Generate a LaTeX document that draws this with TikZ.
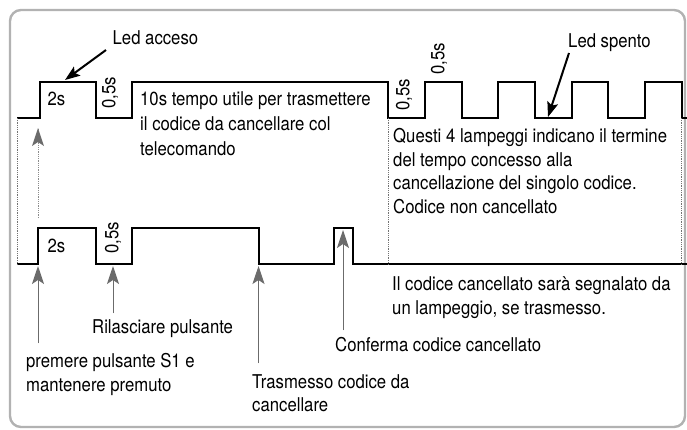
\documentclass[tikz,border=0pt]{standalone}
\usepackage{fontspec}
\setmainfont[FakeStretch=0.88]{TeX Gyre Heros}
\usetikzlibrary{arrows.meta}
\begin{document}
\begin{tikzpicture}[x=1pt,y=-1pt,
  wave/.style={line width=2.4pt, line join=miter, black},
  lbl/.style={anchor=base west, inner sep=0pt, font=\fontsize{19}{24}\selectfont},
  rot/.style={rotate=90, inner sep=0pt, font=\fontsize{19}{24}\selectfont},
  dots/.style={densely dotted, line width=0.8pt, black!55},
  garrow/.style={-{Stealth[length=18pt,width=12pt,inset=4pt]}, line width=1pt, draw=black!58, fill=black!58},
  barrow/.style={-{Stealth[length=15pt,width=11pt,inset=3pt]}, line width=2pt, black},
  frame/.style={draw=black!30, line width=2.4pt, rounded corners=11pt}]

\useasboundingbox (0,0) rectangle (687,429);
\draw[frame] (10,10) rectangle (685,427);

% upper waveform
\draw[wave] (17,118) -- (40,118) -- (40,82) -- (96,82) -- (96,118) -- (132,118) -- (132,82)
  -- (388,82) -- (388,118) -- (425,118) -- (425,82) -- (462,82) -- (462,118)
  -- (498,118) -- (498,82) -- (535,82) -- (535,118) -- (572,118) -- (572,82)
  -- (608,82) -- (608,118) -- (645,118) -- (645,82) -- (682,82) -- (682,118) -- (687,118);

% lower waveform
\draw[wave] (17,264) -- (38,264) -- (38,228) -- (96,228) -- (96,264) -- (132,264) -- (132,228)
  -- (259,228) -- (259,264) -- (334,264) -- (334,228) -- (353,228) -- (353,264) -- (687,264);

% named points
\coordinate (u0) at (17,118);  \coordinate (l0) at (17,264);
\coordinate (u1) at (388,118); \coordinate (l1) at (388,264);
\coordinate (u2) at (681,118); \coordinate (l2) at (681,264);
\coordinate (pdot) at (38,218); \coordinate (ptip) at (38,128);
\coordinate (accT) at (106,50); \coordinate (accH) at (65,80);
\coordinate (spT) at (569,53);  \coordinate (spH) at (548,117);
\coordinate (t1) at (38,343);  \coordinate (h1) at (38,266);
\coordinate (t2) at (113,313); \coordinate (h2) at (113,266);
\coordinate (t3) at (258.5,363); \coordinate (h3) at (258.5,266);
\coordinate (t4) at (343,330); \coordinate (h4) at (343,230);

% dotted guides
\draw[dots] (u0) -- (l0);
\draw[dots] (u1) -- (l1);
\draw[dots] (u2) -- (l2);
\draw[dots, draw=black!45] (pdot) -- (ptip);
\fill[black!58] (38,128) -- (32,146) -- (38,142) -- (44,146) -- cycle;

% gray arrows
\draw[garrow] (t1) -- (h1);
\draw[garrow] (t2) -- (h2);
\draw[garrow] (t3) -- (h3);
\draw[garrow] (t4) -- (h4);

% black arrows
\draw[barrow] (accT) -- (accH);
\draw[barrow] (spT) -- (spH);

% texts
\node[lbl] (ledacc) at (112.5,44.5) {Led acceso};
\node[lbl] (ledsp) at (568,47) {Led spento};
\node[lbl] (u2s) at (47.5,105.5) {2s};
\node[lbl] (ta) at (140,105.5) {10s tempo utile per trasmettere};
\node[lbl] (tb) at (140,130.5) {il codice da cancellare col};
\node[lbl] (tc) at (140,155) {telecomando};
\node[lbl] (qa) at (393,142.5) {Questi 4 lampeggi indicano il termine};
\node[lbl] (qb) at (393,166) {del tempo concesso alla};
\node[lbl] (qc) at (393,189.5) {cancellazione del singolo codice.};
\node[lbl] (qd) at (393,213) {Codice non cancellato};
\node[lbl] (l2s) at (47.5,252) {2s};
\node[lbl] (ia) at (392,290) {Il codice cancellato sarà segnalato da};
\node[lbl] (ib) at (392,314.5) {un lampeggio, se trasmesso.};
\node[lbl] (ril) at (92,333) {Rilasciare pulsante};
\node[lbl] (pa) at (26,367) {premere pulsante S1 e};
\node[lbl] (pb) at (26,391.5) {mantenere premuto};
\node[lbl] (conf) at (335,351.5) {Conferma codice cancellato};
\node[lbl] (tra) at (252,388) {Trasmesso codice da};
\node[lbl] (trb) at (252,411.5) {cancellare};

\node[rot] (r1) at (110,93) {0,5s};
\node[rot] (r2) at (404,95) {0,5s};
\node[rot] (r3) at (439,59) {0,5s};
\node[rot] (r4) at (113,238) {0,5s};
\end{tikzpicture}
\end{document}
